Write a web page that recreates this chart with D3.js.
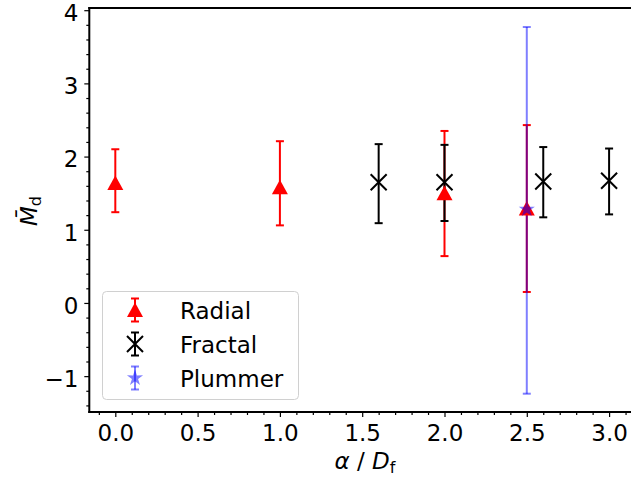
<!DOCTYPE html>
<html>
<head>
<meta charset="utf-8">
<script src="https://cdn.jsdelivr.net/npm/d3@7"></script>
<style>
  body { margin: 0; background: #fff; }
  text { font-family: "DejaVu Sans", sans-serif; fill: #000; }
</style>
</head>
<body>
<div id="chart"></div>
<script>
// values
const radialX = [0.0, 1.0, 2.0, 2.5];
const radialY = [1.64, 1.58, 1.50, 1.29];
const radialLo = [1.24, 1.06, 0.64, 0.15];
const radialHi = [2.10, 2.21, 2.35, 2.43];

const fractalX = [1.6, 2.0, 2.6, 3.0];
const fractalY = [1.65, 1.65, 1.66, 1.67];
const fractalLo = [1.09, 1.12, 1.17, 1.21];
const fractalHi = [2.17, 2.16, 2.13, 2.11];

const plummerX = [2.5];
const plummerY = [1.28];
const plummerLo = [-1.24];
const plummerHi = [3.77];

const xTicks = [0.0, 0.5, 1.0, 1.5, 2.0, 2.5, 3.0];
const yTicks = [-1, 0, 1, 2, 3, 4];

const FS = 23;
const W = 631, H = 481;
const svg = d3.select("#chart").append("svg")
    .attr("width", W).attr("height", H);

const x = d3.scaleLinear().domain([-0.158, 3.158]).range([89.3, 635.1]);
const y = d3.scaleLinear().domain([-1.49, 4.03]).range([412, 8]);

const series = [
    { name: "Radial", xs: radialX, ys: radialY, lo: radialLo, hi: radialHi, color: "red", opacity: 1, marker: "tri" },
    { name: "Fractal", xs: fractalX, ys: fractalY, lo: fractalLo, hi: fractalHi, color: "black", opacity: 1, marker: "x" },
    { name: "Plummer", xs: plummerX, ys: plummerY, lo: plummerLo, hi: plummerHi, color: "blue", opacity: 0.5, marker: "star" }
];

function starPath(r) {
    const pts = [];
    for (let i = 0; i < 10; i++) {
        const a = -Math.PI / 2 + i * Math.PI / 5;
        const rr = i % 2 === 0 ? r : r * 0.38;
        pts.push([rr * Math.cos(a), rr * Math.sin(a)]);
    }
    return "M" + pts.map(p => p.join(",")).join("L") + "Z";
}

function drawMarker(g, type, color, opacity, cx, cy) {
    if (type === "tri") {
        g.append("path")
            .attr("d", `M${cx},${cy - 7.5}L${cx - 8},${cy + 7}L${cx + 8},${cy + 7}Z`)
            .attr("fill", color).attr("fill-opacity", opacity);
    } else if (type === "x") {
        const r = 8;
        g.append("path")
            .attr("d", `M${cx - r},${cy - r}L${cx + r},${cy + r}M${cx - r},${cy + r}L${cx + r},${cy - r}`)
            .attr("stroke", color).attr("stroke-width", 2).attr("fill", "none");
    } else {
        g.append("path")
            .attr("d", starPath(8.5))
            .attr("transform", `translate(${cx},${cy})`)
            .attr("fill", color).attr("fill-opacity", opacity);
    }
}

function drawErr(g, color, opacity, cx, y1, y2) {
    const e = g.append("g").attr("stroke", color).attr("stroke-opacity", opacity).attr("stroke-width", 2);
    e.append("line").attr("x1", cx).attr("x2", cx).attr("y1", y1).attr("y2", y2);
    e.append("line").attr("x1", cx - 4).attr("x2", cx + 4).attr("y1", y1).attr("y2", y1);
    e.append("line").attr("x1", cx - 4).attr("x2", cx + 4).attr("y1", y2).attr("y2", y2);
}

const plot = svg.append("g");
plot.append("defs").append("clipPath").attr("id", "clip")
    .append("rect").attr("x", 89).attr("y", 8).attr("width", 546).attr("height", 404);
const inner = plot.append("g").attr("clip-path", "url(#clip)");

// error bars first (below all markers)
series.forEach(s => {
    s.xs.forEach((xv, i) => drawErr(inner, s.color, s.opacity, x(xv), y(s.hi[i]), y(s.lo[i])));
});
series.forEach(s => {
    s.xs.forEach((xv, i) => drawMarker(inner, s.marker, s.color, s.opacity, x(xv), y(s.ys[i])));
});

// axes
const xAxis = svg.append("g").attr("transform", "translate(0,412)")
    .call(d3.axisBottom(x).tickValues(xTicks).tickFormat(d3.format(".1f")).tickSize(5).tickPadding(8));
const xMinor = svg.append("g").attr("transform", "translate(0,412)")
    .call(d3.axisBottom(x).tickValues(d3.range(-0.1, 3.15, 0.1).filter(v => Math.abs(v * 2 - Math.round(v * 2)) > 0.01)).tickSize(3).tickFormat(""));
const yAxis = svg.append("g").attr("transform", "translate(89.3,0)")
    .call(d3.axisLeft(y).tickValues(yTicks).tickFormat(d => d < 0 ? "\u2212" + Math.abs(d) : d).tickSize(5).tickPadding(6));
const yMinor = svg.append("g").attr("transform", "translate(89.3,0)")
    .call(d3.axisLeft(y).tickValues(d3.range(-1.4, 4.01, 0.2).filter(v => Math.abs(v - Math.round(v)) > 0.01)).tickSize(3).tickFormat(""));

[xAxis, xMinor, yAxis, yMinor].forEach(a => {
    a.select(".domain").remove();
    a.selectAll(".tick line").attr("stroke", "#000").attr("stroke-width", 1.2);
    a.selectAll(".tick text").style("font-size", FS + "px").style("font-family", "DejaVu Sans, sans-serif");
});
yAxis.selectAll(".tick text").attr("y", 3);

// spines
svg.append("line").attr("x1", 89.3).attr("x2", 89.3).attr("y1", 7).attr("y2", 413)
    .attr("stroke", "#000").attr("stroke-width", 2);
svg.append("line").attr("x1", 88.3).attr("x2", 631).attr("y1", 412).attr("y2", 412)
    .attr("stroke", "#000").attr("stroke-width", 2);
svg.append("line").attr("x1", 88.3).attr("x2", 631).attr("y1", 8).attr("y2", 8)
    .attr("stroke", "#000").attr("stroke-width", 2);

// axis labels
const xl = svg.append("text").attr("x", 365).attr("y", 469)
    .attr("text-anchor", "middle").style("font-size", FS + "px");
xl.append("tspan").style("font-style", "italic").text("\u03b1");
xl.append("tspan").text(" / ");
xl.append("tspan").style("font-style", "italic").text("D");
xl.append("tspan").attr("dy", 4).style("font-size", "16px").text("f");

const yl = svg.append("text").attr("transform", "translate(37,211) rotate(-90)")
    .attr("text-anchor", "middle").style("font-size", FS + "px");
yl.append("tspan").style("font-style", "italic").text("M\u0304");
yl.append("tspan").attr("dy", 4).style("font-size", "16px").text("d");

// legend
const lg = svg.append("g");
lg.append("rect").attr("x", 102.5).attr("y", 291.5).attr("width", 196).attr("height", 108)
    .attr("rx", 4).attr("fill", "#fff").attr("fill-opacity", 0.8)
    .attr("stroke", "#d0d0d0").attr("stroke-width", 1);
series.forEach((s, i) => {
    const cy = 310 + i * 34;
    drawErr(lg, s.color, s.opacity, 135, cy - 11.5, cy + 11.5);
    drawMarker(lg, s.marker, s.color, s.opacity, 135, cy);
    lg.append("text").attr("x", 180).attr("y", cy + 8.5).style("font-size", FS + "px").text(s.name);
});
</script>
</body>
</html>
